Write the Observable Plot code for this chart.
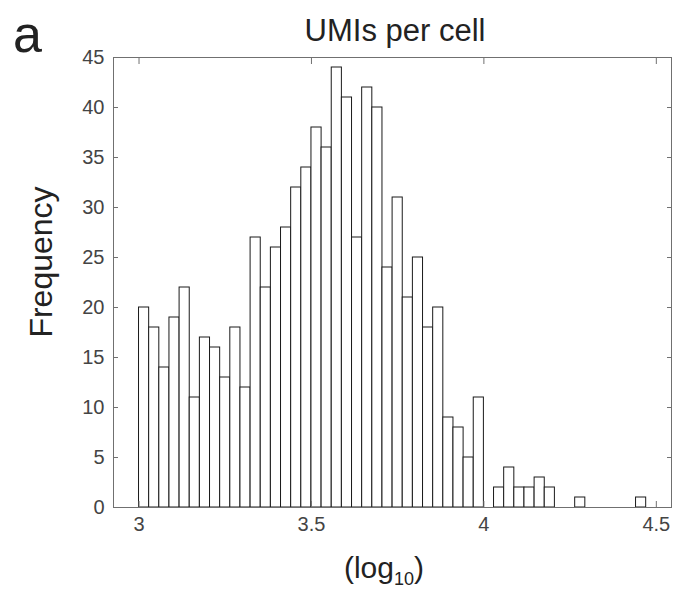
<!DOCTYPE html>
<html>
<head>
<meta charset="utf-8">
<script src="https://cdn.jsdelivr.net/npm/d3@7"></script>
<script src="https://cdn.jsdelivr.net/npm/@observablehq/plot@0.6"></script>
<style>
  html, body { margin: 0; padding: 0; background: white; }
</style>
</head>
<body>
<div id="chart"></div>
<script>
// Histogram counts per bin (log10 UMIs per cell), 50 bins starting at 3.0
const binStart = 3.0;
const binWidth = 1 / 34;
const counts = [20,18,14,19,22,11,17,16,13,18,
                12,27,22,26,28,32,34,38,36,44,
                41,27,42,40,24,31,21,25,18,20,
                9,8,5,11,0,2,4,2,2,3,
                2,0,0,1,0,0,0,0,0,1];
const xTicks = [3, 3.5, 4, 4.5];
const yTicks = [0, 5, 10, 15, 20, 25, 30, 35, 40, 45];
const titleText = "UMIs per cell";
const panelLetter = "a";
const yLabel = "Frequency";

const bins = counts.map((c, i) => ({
  x1: binStart + i * binWidth,
  x2: binStart + (i + 1) * binWidth,
  count: c
}));

const font = "'Liberation Sans', Arial, Helvetica, sans-serif";

const chart = Plot.plot({
  width: 679,
  height: 593,
  marginLeft: 113,
  marginRight: 8,
  marginTop: 57,
  marginBottom: 86,
  x: {domain: [2.926, 4.544]},
  y: {domain: [0, 45]},
  style: {fontFamily: font, fontSize: "20px", color: "#444", background: "white"},
  marks: [
    Plot.rectY(bins, {x1: "x1", x2: "x2", y: "count", fill: "white", stroke: "#1a1a1a", strokeWidth: 1}),
    Plot.frame({stroke: "#707070", strokeWidth: 1}),
    Plot.axisX(xTicks, {anchor: "bottom", tickSize: 0, tickPadding: 9, label: null, tickFormat: d => String(d), fill: "#444", fontSize: 20}),
    Plot.axisX(xTicks, {anchor: "bottom", tickSize: -6, text: null, label: null, stroke: "#707070"}),
    Plot.axisX(xTicks, {anchor: "top", tickSize: -6, text: null, label: null, stroke: "#707070"}),
    Plot.axisY(yTicks, {anchor: "left", tickSize: 0, tickPadding: 9, label: null, tickFormat: d => String(d), fill: "#444", fontSize: 20}),
    Plot.axisY(yTicks, {anchor: "left", tickSize: -5, text: null, label: null, stroke: "#707070"}),
    Plot.axisY(yTicks, {anchor: "right", tickSize: -5, text: null, label: null, stroke: "#707070"})
  ]
});

const svg = d3.select(chart);
svg.append("text")
  .attr("x", 13).attr("y", 52)
  .attr("text-anchor", "start")
  .attr("font-family", font).attr("font-size", 52).attr("fill", "#222")
  .text(panelLetter);
svg.append("text")
  .attr("x", 395).attr("y", 41)
  .attr("text-anchor", "middle")
  .attr("font-family", font).attr("font-size", 31).attr("fill", "#222")
  .text(titleText);
svg.append("text")
  .attr("transform", "translate(52,262) rotate(-90)")
  .attr("text-anchor", "middle")
  .attr("font-family", font).attr("font-size", 32).attr("fill", "#222")
  .text(yLabel);
const xl = svg.append("text")
  .attr("x", 384).attr("y", 578)
  .attr("text-anchor", "middle")
  .attr("font-family", font).attr("font-size", 30).attr("fill", "#222");
xl.append("tspan").text("(log");
xl.append("tspan").attr("font-size", 18).attr("dy", 7).text("10");
xl.append("tspan").attr("dy", -7).text(")");

document.getElementById("chart").appendChild(chart);
</script>
</body>
</html>
